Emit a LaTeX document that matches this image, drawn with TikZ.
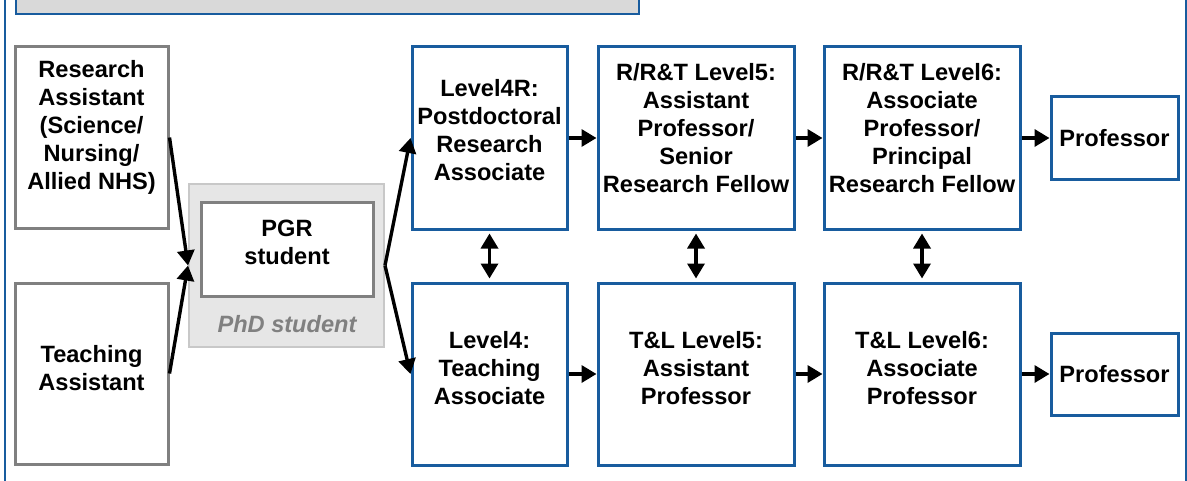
\documentclass[tikz,border=0pt]{standalone}
\usepackage{fontspec}
\setmainfont{Liberation Sans}
\usetikzlibrary{arrows.meta}
\definecolor{uniblue}{RGB}{24,92,158}
\definecolor{boxgrey}{RGB}{128,128,128}
\definecolor{phdfill}{RGB}{230,230,230}
\definecolor{phdline}{RGB}{200,200,200}
\definecolor{barfill}{RGB}{217,217,217}

\begin{document}
\begin{tikzpicture}[x=0.5pt,y=-0.5pt,
  every node/.style={font=\fontsize{11.8pt}{14pt}\selectfont\bfseries,align=center,inner sep=0pt},
  bluebox/.style={draw=uniblue,line width=1.5pt,fill=white},
  greybox/.style={draw=boxgrey,line width=1.5pt,fill=white},
  arr/.style={-{Triangle[length=7.5pt,width=8.5pt]},line width=1.7pt},
  darr/.style={{Triangle[length=7.5pt,width=8.5pt]}-{Triangle[length=7.5pt,width=8.5pt]},line width=1.7pt,shorten <=1.5pt,shorten >=1.5pt}]

\useasboundingbox (0,0) rectangle (1187,481);
\clip (0,0) rectangle (1187,481);
% frame and top bar
\draw[uniblue,line width=1.2pt] (5,-20) rectangle (1186,500);
\draw[uniblue,fill=barfill,line width=1.2pt] (16,-20) rectangle (639,14);

% entry posts
\node[greybox,minimum width=76.5pt,minimum height=90.5pt,
  label={[yshift=5pt]center:{Research\\Assistant\\(Science/\\Nursing/\\Allied NHS)}}] (ra) at (91.5,137.5) {};
\node[greybox,minimum width=76.5pt,minimum height=90.5pt,
  label={[yshift=2.5pt]center:{Teaching\\Assistant}}] (ta) at (91.5,373.5) {};
\node[draw=phdline,fill=phdfill,line width=1pt,minimum width=97.5pt,minimum height=81.5pt] (phd) at (286.5,265.5) {};
\node[greybox,minimum width=86pt,minimum height=47pt,
  label={[yshift=3.5pt]center:{PGR\\student}}] (pgr) at (287,249) {};
\node[text=boxgrey,font=\fontsize{11.8pt}{14pt}\selectfont\bfseries\itshape] (phdtxt) at (287,324) {PhD student};

% research track
\node[bluebox,minimum width=77.5pt,minimum height=91pt,
  label={[yshift=4pt]center:{Level4R:\\Postdoctoral\\Research\\Associate}}] (l4r) at (489.5,138) {};
\node[bluebox,minimum width=98pt,minimum height=91pt,
  label={[yshift=4.75pt]center:{R/R\&T Level5:\\Assistant\\Professor/\\Senior\\Research Fellow}}] (l5r) at (696,138) {};
\node[bluebox,minimum width=98pt,minimum height=91pt,
  label={[yshift=4.75pt]center:{R/R\&T Level6:\\Associate\\Professor/\\Principal\\Research Fellow}}] (l6r) at (922,138) {};
\node[bluebox,minimum width=63.5pt,minimum height=41pt] (profr) at (1114.5,138) {Professor};

% teaching track
\node[bluebox,minimum width=77.5pt,minimum height=91pt,
  label={[yshift=3pt]center:{Level4:\\Teaching\\Associate}}] (l4) at (489.5,374) {};
\node[bluebox,minimum width=98pt,minimum height=91pt,
  label={[yshift=3pt]center:{T\&L Level5:\\Assistant\\Professor}}] (l5) at (696,374) {};
\node[bluebox,minimum width=98pt,minimum height=91pt,
  label={[yshift=3pt]center:{T\&L Level6:\\Associate\\Professor}}] (l6) at (922,374) {};
\node[bluebox,minimum width=63.5pt,minimum height=41pt] (proft) at (1114.5,374) {Professor};

% arrows
\draw[arr] (ra.east) -- (phd.west);
\draw[arr] (ta.east) -- (phd.west);
\draw[arr] (phd.east) -- (l4r.west);
\draw[arr] (phd.east) -- (l4.west);
\foreach \a/\b in {l4r/l5r,l5r/l6r,l6r/profr,l4/l5,l5/l6,l6/proft}
  \draw[arr] (\a) -- (\b);
\foreach \a/\b in {l4r/l4,l5r/l5,l6r/l6}
  \draw[darr] (\a) -- (\b);
\end{tikzpicture}
\end{document}
